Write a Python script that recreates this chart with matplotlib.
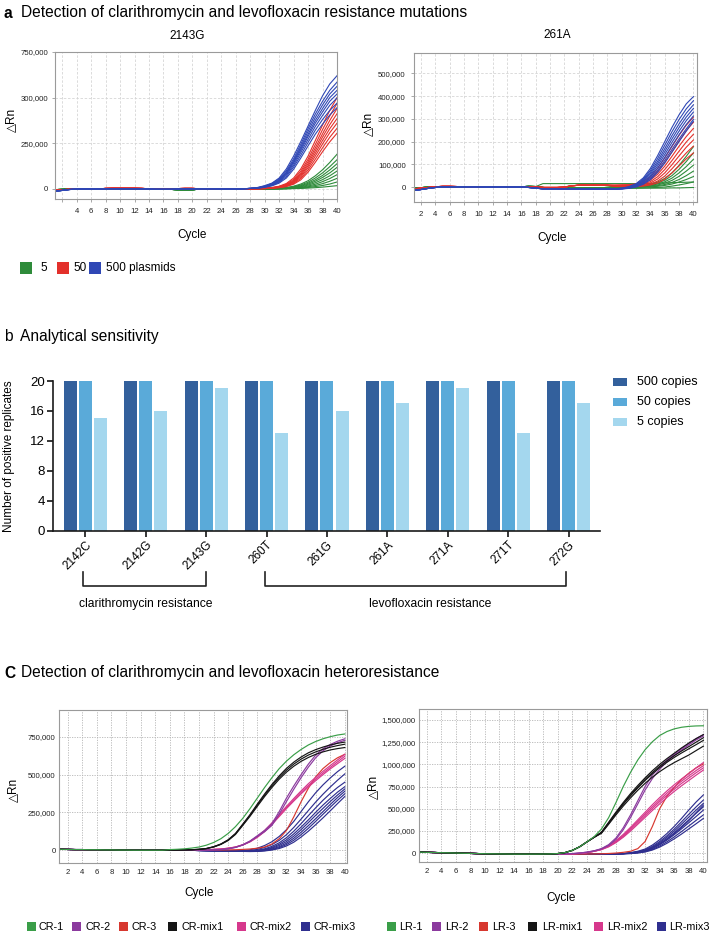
import matplotlib
matplotlib.use("Agg")
import matplotlib.pyplot as plt
from matplotlib.patches import Rectangle
from matplotlib.lines import Line2D

W, H = 709, 935
plt.rcParams['font.family'] = ['Liberation Sans', 'DejaVu Sans']

# ============================ DATA ============================
# ---- panel a : amplification curves (delta Rn, thousands) ----
# baseline for cycles 1..28, per colour group; curves for cycles 29..40
A1_TITLE = "2143G"
A1_BASE_BLUE = [-12, -8, -3, -1, 0, 0, 0, 1, 1, 1, 1, 1, 0, -1, -2, -2, -2, -1, -1, 0, 1, 1, 1, 0, -1, 0, 1, 3]
A1_BASE_RED = [-6, -4, -2, -1, 0, 0, 0, 3, 4, 4, 4, 4, 3, 1, -1, -1, -1, 2, 3, 3, 1, 0, 0, -1, -1, 0, 0, 1]
A1_BASE_GREEN = [-4, -2, 0, 2, 2, 2, 2, 2, 2, 2, 1, 1, 1, 0, -1, -1, -2, -5, -5, -5, 0, 2, 2, 2, 1, 1, 0, 0]
A1_BLUE = [
    [8, 18, 32, 60, 110, 180, 260, 345, 430, 510, 575, 620],
    [7, 16, 30, 55, 100, 165, 245, 330, 410, 480, 540, 585],
    [6, 14, 27, 50, 92, 155, 232, 315, 392, 460, 520, 562],
    [6, 13, 25, 47, 88, 148, 222, 300, 375, 440, 500, 540],
    [5, 12, 23, 44, 82, 140, 212, 288, 360, 422, 480, 520],
    [5, 11, 21, 40, 76, 130, 200, 272, 342, 402, 458, 498],
    [4, 10, 19, 36, 68, 120, 185, 255, 322, 380, 430, 470],
    [4, 9, 17, 32, 60, 108, 170, 236, 300, 355, 405, 445],
]
A1_RED = [
    [2, 4, 8, 15, 30, 60, 110, 180, 265, 350, 430, 500],
    [2, 4, 7, 13, 26, 52, 98, 163, 243, 325, 400, 468],
    [1, 3, 6, 12, 23, 46, 88, 150, 225, 302, 375, 440],
    [1, 3, 6, 11, 21, 42, 80, 138, 210, 284, 352, 412],
    [1, 3, 5, 10, 19, 38, 73, 127, 195, 265, 330, 385],
    [1, 2, 5, 9, 17, 34, 66, 116, 180, 246, 308, 360],
    [1, 2, 4, 8, 15, 30, 58, 104, 163, 225, 283, 332],
    [1, 2, 4, 7, 13, 26, 50, 92, 146, 204, 258, 305],
]
A1_GREEN = [
    [0, 1, 2, 4, 8, 15, 27, 45, 72, 105, 145, 190],
    [0, 1, 2, 3, 6, 12, 22, 37, 60, 88, 122, 160],
    [0, 0, 1, 3, 5, 10, 18, 31, 50, 74, 104, 138],
    [0, 0, 1, 2, 4, 8, 15, 26, 42, 63, 88, 118],
    [0, 0, 1, 2, 3, 6, 12, 21, 34, 51, 72, 98],
    [0, 0, 1, 1, 3, 5, 9, 16, 26, 40, 57, 78],
    [0, 0, 0, 1, 2, 4, 7, 12, 19, 29, 42, 58],
    [0, 0, 0, 1, 1, 3, 5, 8, 13, 19, 27, 38],
    [0, 0, 0, 0, 1, 2, 3, 5, 7, 10, 14, 18],
]
A1_YTICKS = [0, 250, 500, 750]
A1_YLABELS = ["0", "250,000", "300,000", "750,000"]

A2_TITLE = "261A"
A2_BASE_BLUE = [-15, -11, -6, -2, 0, 1, 1, 1, 1, 1, 0, 0, 0, 0, 0, 0, -2, -5, -8, -8, -8, -9, -9, -9, -9, -9, -9, -9]
A2_BASE_RED = [-8, -5, -2, 1, 3, 3, 2, 2, 1, 1, 1, 0, 0, 0, 0, 0, 0, 0, -2, -2, -2, 0, 5, 8, 8, 8, 8, 8]
A2_BASE_GREEN = [-6, -3, 0, 1, 1, 1, 1, 1, 1, 1, 1, 0, 0, 0, 0, 1, 3, 2, -2, -4, -4, -4, -4, -4, -4, -4, -3, -2]
A2_BLUE = [
    [-8, -5, 2, 15, 40, 82, 138, 200, 262, 318, 366, 398],
    [-8, -6, 0, 12, 35, 73, 125, 184, 243, 297, 344, 380],
    [-9, -6, -1, 10, 31, 65, 113, 169, 226, 278, 325, 362],
    [-9, -7, -2, 8, 27, 58, 103, 156, 211, 262, 308, 346],
    [-9, -7, -3, 6, 23, 51, 93, 143, 196, 246, 292, 330],
    [-10, -8, -4, 4, 19, 44, 83, 130, 181, 230, 275, 313],
    [-10, -8, -5, 2, 15, 38, 73, 117, 165, 212, 256, 298],
    [-10, -9, -6, 0, 12, 32, 64, 106, 153, 200, 246, 290],
]
A2_RED = [
    [8, 9, 10, 14, 25, 46, 82, 128, 178, 228, 272, 308],
    [8, 8, 9, 12, 20, 38, 68, 108, 155, 203, 248, 285],
    [7, 8, 8, 10, 17, 31, 56, 92, 135, 180, 222, 258],
    [6, 6, 7, 8, 13, 24, 45, 77, 116, 158, 198, 232],
    [5, 5, 5, 6, 10, 18, 35, 62, 98, 137, 175, 207],
    [3, 3, 3, 4, 7, 13, 26, 48, 80, 115, 150, 180],
    [2, 2, 2, 2, 4, 9, 18, 35, 62, 93, 124, 150],
]
A2_GREEN = [
    [2, 2, 3, 4, 7, 12, 22, 38, 62, 95, 135, 178],
    [1, 1, 2, 3, 5, 9, 17, 30, 50, 78, 112, 150],
    [0, 1, 1, 2, 4, 7, 13, 23, 39, 62, 90, 122],
    [0, 0, 1, 1, 3, 5, 9, 17, 29, 47, 70, 96],
    [0, 0, 0, 1, 2, 3, 6, 11, 20, 33, 50, 70],
    [-3, -3, -3, -2, -1, 1, 3, 7, 13, 22, 33, 46],
    [-5, -5, -5, -5, -4, -3, -2, 0, 4, 9, 15, 22],
    [-5, -5, -5, -5, -5, -5, -5, -5, -4, -4, -3, -2],
]
# one green well with a baseline step (cycles 1..40)
A2_GREEN_STEP = [-6, -3, 0, 1, 1, 1, 1, 1, 1, 1, 1, 0, 0, 0, 0, 1, 3, 2,
                 15, 15, 15, 15, 15, 15, 15, 15, 15, 15, 15, 15, 15, 15, 15,
                 16, 17, 18, 19, 20, 21, 22]
A2_YTICKS = [0, 100, 200, 300, 400, 500]
A2_YLABELS = ["0", "100,000", "200,000", "300,000", "400,000", "500,000"]
A_LEGEND = ["5", "50", "500 plasmids"]

# ---- panel b : analytical sensitivity ----
B_MUTATIONS = ["2142C", "2142G", "2143G", "260T", "261G", "261A", "271A", "271T", "272G"]
B_500 = [20, 20, 20, 20, 20, 20, 20, 20, 20]
B_50 = [20, 20, 20, 20, 20, 20, 20, 20, 20]
B_5 = [15, 16, 19, 13, 16, 17, 19, 13, 17]
B_SERIES = ["500 copies", "50 copies", "5 copies"]
B_YTICKS = [0, 4, 8, 12, 16, 20]
B_GROUPS = ["clarithromycin resistance", "levofloxacin resistance"]

# ---- panel c : heteroresistance curves (thousands) ----
# baseline cycles 1..15 shared, curves for cycles 16..40
C_BASE = [5, 4, 3, 3, 2, 2, 1, 1, 0, 0, -1, -1, -1, -1, -1]
CR_1 = [[3, 5, 8, 13, 20, 32, 50, 75, 110, 155, 210, 275, 345, 415, 480, 540, 590, 632, 667, 697, 720, 738, 752, 763, 770]]
CR_2 = [
    [0, 0, 0, 0, 0, 0, 1, 3, 8, 18, 35, 60, 95, 130, 175, 255, 345, 425, 500, 570, 630, 672, 700, 722, 738],
    [0, 0, 0, 0, 0, 0, 1, 3, 8, 17, 33, 57, 90, 122, 163, 238, 322, 403, 480, 550, 612, 658, 690, 712, 728],
]
CR_3 = [[0, 0, 0, 0, 0, 0, 0, 0, 1, 2, 4, 7, 12, 20, 40, 75, 130, 220, 320, 410, 485, 540, 580, 612, 635]]
CR_MIX1 = [
    [0, 0, 1, 2, 5, 10, 22, 40, 68, 110, 172, 235, 305, 372, 435, 492, 542, 583, 617, 645, 666, 683, 697, 708, 716],
    [0, 0, 1, 2, 5, 10, 21, 39, 66, 107, 168, 230, 298, 364, 426, 482, 530, 570, 603, 630, 651, 668, 682, 693, 702],
    [0, 0, 1, 2, 4, 9, 20, 37, 63, 103, 163, 224, 290, 355, 415, 470, 517, 556, 588, 614, 635, 651, 664, 673, 680],
]
CR_MIX2 = [
    [0, 0, 0, 0, 1, 2, 4, 7, 12, 20, 35, 58, 90, 130, 180, 235, 290, 342, 392, 440, 482, 522, 560, 598, 635],
    [0, 0, 0, 0, 1, 2, 4, 7, 12, 20, 34, 56, 87, 126, 174, 228, 282, 333, 382, 428, 470, 510, 548, 585, 622],
    [0, 0, 0, 0, 1, 2, 4, 6, 11, 19, 33, 54, 84, 122, 169, 222, 275, 325, 373, 418, 460, 500, 538, 573, 608],
]
CR_MIX3 = [
    [0, 0, -1, -2, -3, -4, -5, -6, -6, -5, -3, 2, 12, 30, 55, 90, 135, 190, 255, 320, 380, 432, 478, 520, 556],
    [0, 0, -1, -2, -3, -4, -5, -6, -7, -7, -6, -3, 4, 17, 36, 64, 102, 150, 205, 262, 318, 370, 418, 463, 505],
    [0, 0, -1, -2, -3, -4, -5, -6, -7, -8, -8, -6, -2, 8, 24, 48, 82, 125, 175, 228, 280, 330, 375, 415, 450],
    [0, 0, -1, -2, -3, -4, -5, -6, -7, -8, -8, -7, -4, 4, 17, 38, 68, 107, 152, 200, 250, 298, 342, 384, 420],
    [0, 0, -1, -2, -3, -4, -5, -6, -7, -8, -9, -8, -5, 1, 12, 30, 56, 92, 135, 182, 230, 276, 322, 365, 405],
    [0, 0, -1, -2, -3, -4, -5, -6, -7, -8, -9, -9, -7, -2, 7, 22, 45, 78, 118, 162, 208, 255, 302, 348, 390],
    [0, 0, -1, -2, -3, -4, -5, -6, -7, -8, -9, -9, -8, -4, 3, 16, 36, 65, 102, 144, 190, 237, 284, 330, 373],
    [0, 0, -1, -2, -3, -4, -5, -6, -7, -8, -9, -10, -9, -6, 0, 10, 27, 52, 86, 125, 168, 213, 260, 308, 355],
]
CR_NAMES = ["CR-1", "CR-2", "CR-3", "CR-mix1", "CR-mix2", "CR-mix3"]
C1_YTICKS = [0, 250, 500, 750]
C1_YLABELS = ["0", "250,000", "500,000", "750,000"]

D_BASE = [10, 8, 6, 4, 2, 0, -2, -4, -6, -8, -9, -10, -11, -12, -12]
LR_1 = [[-12, -12, -11, -10, -6, 5, 30, 70, 125, 185, 270, 400, 570, 750, 910, 1050, 1165, 1255, 1325, 1370, 1400, 1418, 1428, 1433, 1435]]
LR_2 = [
    [-12, -12, -12, -11, -10, -9, -6, 0, 10, 25, 50, 95, 170, 285, 430, 590, 750, 880, 975, 1050, 1115, 1175, 1235, 1290, 1335],
    [-12, -12, -12, -11, -10, -9, -6, 0, 10, 25, 45, 85, 155, 262, 400, 555, 710, 840, 945, 1030, 1100, 1160, 1220, 1275, 1320],
]
LR_3 = [[-12, -12, -12, -12, -12, -12, -12, -12, -11, -10, -8, -5, 0, 8, 20, 50, 130, 300, 500, 640, 740, 830, 900, 960, 1005]]
LR_MIX1 = [
    [-12, -12, -11, -10, -6, 5, 30, 70, 125, 178, 235, 348, 462, 570, 670, 762, 848, 928, 1000, 1065, 1125, 1185, 1240, 1290, 1335],
    [-12, -12, -11, -10, -6, 5, 30, 70, 125, 178, 230, 340, 452, 558, 655, 745, 830, 908, 978, 1040, 1098, 1150, 1200, 1250, 1300],
    [-12, -12, -11, -10, -6, 5, 30, 70, 125, 178, 228, 335, 445, 550, 645, 735, 818, 893, 962, 1023, 1078, 1128, 1175, 1222, 1270],
    [-12, -12, -11, -10, -6, 5, 30, 70, 125, 178, 222, 325, 430, 530, 622, 708, 786, 856, 918, 972, 1020, 1063, 1105, 1155, 1205],
]
LR_MIX2 = [
    [-12, -12, -12, -12, -11, -10, -8, -4, 5, 20, 45, 85, 140, 210, 290, 375, 460, 545, 625, 700, 770, 835, 895, 960, 1020],
    [-12, -12, -12, -12, -11, -10, -8, -4, 5, 20, 42, 80, 132, 198, 275, 357, 440, 522, 600, 675, 745, 810, 870, 930, 985],
    [-12, -12, -12, -12, -11, -10, -8, -4, 5, 20, 40, 75, 125, 188, 262, 342, 422, 502, 580, 652, 720, 785, 845, 905, 960],
    [-12, -12, -12, -12, -11, -10, -8, -4, 5, 20, 38, 70, 118, 178, 248, 325, 402, 480, 555, 627, 695, 758, 818, 878, 935],
]
LR_MIX3 = [
    [-15, -15, -15, -15, -15, -15, -15, -15, -15, -14, -13, -12, -10, -7, 5, 20, 45, 90, 150, 220, 300, 390, 485, 575, 655],
    [-15, -15, -15, -15, -15, -15, -15, -15, -15, -14, -13, -12, -10, -7, 2, 15, 36, 75, 130, 195, 270, 352, 437, 520, 597],
    [-15, -15, -15, -15, -15, -15, -15, -15, -15, -14, -13, -12, -10, -7, 0, 12, 30, 66, 117, 178, 248, 325, 405, 484, 560],
    [-15, -15, -15, -15, -15, -15, -15, -15, -15, -14, -13, -12, -10, -7, -2, 9, 26, 58, 105, 162, 228, 300, 374, 448, 521],
    [-15, -15, -15, -15, -15, -15, -15, -15, -15, -14, -13, -12, -10, -7, -4, 6, 21, 50, 93, 146, 207, 273, 342, 412, 484],
    [-15, -15, -15, -15, -15, -15, -15, -15, -15, -14, -13, -12, -10, -7, -5, 3, 16, 41, 79, 127, 182, 242, 305, 368, 430],
    [-15, -15, -15, -15, -15, -15, -15, -15, -15, -14, -13, -12, -10, -7, -6, 1, 12, 34, 67, 110, 160, 214, 272, 330, 390],
    [-15, -15, -15, -15, -15, -15, -15, -15, -15, -14, -13, -12, -10, -7, -3, 8, 24, 55, 100, 155, 218, 288, 365, 455, 540],
]
LR_NAMES = ["LR-1", "LR-2", "LR-3", "LR-mix1", "LR-mix2", "LR-mix3"]
C2_YTICKS = [0, 250, 500, 750, 1000, 1250, 1500]
C2_YLABELS = ["0", "250,000", "500,000", "750,000", "1,000,000", "1,250,000", "1,500,000"]

CYCLES = list(range(1, 41))

# ============================ STYLE ============================
A_COLORS = ["#2e8b3a", "#e3302b", "#2f47b5"]
B_COLORS = ["#33609c", "#5aaad9", "#a4d7ee"]
C_COLORS = ["#3a9e48", "#8b3a9e", "#d7382f", "#151515", "#d6388c", "#2f2f8f"]
TITLE_FS = 11.2

fig = plt.figure(figsize=(W / 100, H / 100), dpi=100)


def add_ax(l, t, r, b):
    return fig.add_axes([l / W, 1 - b / H, (r - l) / W, (b - t) / H])


def ftext(x, y, s, **kw):
    kw.setdefault("va", "center")
    fig.text(x / W, 1 - y / H, s, **kw)


def fsquare(x0, y0, x1, y1, color):
    fig.add_artist(Rectangle((x0 / W, 1 - y1 / H), (x1 - x0) / W, (y1 - y0) / H,
                             transform=fig.transFigure, facecolor=color, edgecolor="none"))


def fline(xs, ys, **kw):
    fig.add_artist(Line2D([x / W for x in xs], [1 - y / H for y in ys],
                          transform=fig.transFigure, **kw))


def style_qpcr(ax, xlim, ylim, yticks, ylabels, xlabels_from, grid_ls, grid_col,
               spine_col, tlen, ypad, xpad):
    ax.set_xlim(*xlim)
    ax.set_ylim(*ylim)
    xt = list(range(2, 41, 2))
    ax.set_xticks(xt)
    ax.set_xticklabels([str(v) if v >= xlabels_from else "" for v in xt])
    ax.set_yticks([v * 1000 for v in yticks])
    ax.set_yticklabels(ylabels)
    ax.tick_params(axis="both", labelsize=5.6, colors=spine_col, labelcolor="#222222",
                   length=tlen, width=0.6)
    ax.tick_params(axis="y", pad=ypad)
    ax.tick_params(axis="x", pad=xpad)
    ax.grid(True, ls=grid_ls, color=grid_col, lw=0.6)
    ax.set_axisbelow(True)
    for s in ax.spines.values():
        s.set_color(spine_col)
        s.set_linewidth(0.8)


def draw_set(ax, base, curves, color, lw):
    for cv in curves:
        ys = [(v * 1000) for v in (base + cv)]
        ax.plot(CYCLES[:len(ys)], ys, color=color, lw=lw, solid_joinstyle="round")


# ============================ PANEL A ============================
ftext(4, 13, "a", fontsize=TITLE_FS, fontweight="bold")
ftext(21, 13, "Detection of clarithromycin and levofloxacin resistance mutations", fontsize=TITLE_FS)

ax = add_ax(55, 52, 337, 199)
style_qpcr(ax, (1, 40), (-55000, 750000), A1_YTICKS, A1_YLABELS, 4, (0, (3, 2)), "#d6d6d6",
           "#9a9a9a", 2.5, 2.5, 4)
draw_set(ax, A1_BASE_GREEN, A1_GREEN, A_COLORS[0], 0.8)
draw_set(ax, A1_BASE_RED, A1_RED, A_COLORS[1], 0.8)
draw_set(ax, A1_BASE_BLUE, A1_BLUE, A_COLORS[2], 0.8)
ftext(187, 36, A1_TITLE, fontsize=8.5, ha="center")
ftext(192, 235, "Cycle", fontsize=8.5, ha="center")
ftext(11, 120, "△Rn", fontsize=8.5, ha="center", rotation=90)

ax = add_ax(414, 53, 697, 202)
style_qpcr(ax, (1, 40.5), (-66000, 590000), A2_YTICKS, A2_YLABELS, 2, (0, (3, 2)), "#d6d6d6",
           "#9a9a9a", 2.5, 3.5, 4)
draw_set(ax, A2_BASE_GREEN, A2_GREEN, A_COLORS[0], 0.8)
ax.plot(CYCLES, [v * 1000 for v in A2_GREEN_STEP], color=A_COLORS[0], lw=0.8)
draw_set(ax, A2_BASE_RED, A2_RED, A_COLORS[1], 0.8)
draw_set(ax, A2_BASE_BLUE, A2_BLUE, A_COLORS[2], 0.8)
ftext(557, 35, A2_TITLE, fontsize=8.5, ha="center")
ftext(552, 238, "Cycle", fontsize=8.5, ha="center")
ftext(368, 124, "△Rn", fontsize=8.5, ha="center", rotation=90)

# legend a
leg_x = [(20, 32, 40), (57, 69, 73), (89, 101, 106)]
for (x0, x1, tx), col, lab in zip(leg_x, A_COLORS, A_LEGEND):
    fsquare(x0, 262, x1, 274, col)
    ftext(tx, 268, lab, fontsize=8.5)

# ============================ PANEL B ============================
ftext(4, 337, "b", fontsize=TITLE_FS)
ftext(20.5, 337, "Analytical sensitivity", fontsize=TITLE_FS)

ax = add_ax(53.3, 381, 600, 530.7)
xs = list(range(len(B_MUTATIONS)))
bw = 0.215
for off, vals, col, lab in zip([-0.25, 0, 0.25], [B_500, B_50, B_5], B_COLORS, B_SERIES):
    ax.bar([x + off for x in xs], vals, width=bw, color=col, edgecolor="none", label=lab,
           clip_on=False)
ax.set_xlim(-0.53, 8.52)
ax.set_ylim(0, 20)
ax.set_yticks(B_YTICKS)
ax.set_xticks(xs)
ax.set_xticklabels(B_MUTATIONS, rotation=45, ha="right", rotation_mode="anchor", fontsize=8.5)
ax.tick_params(axis="y", labelsize=9.5, length=4, width=1.1, pad=2)
ax.tick_params(axis="x", length=4, width=1.1, pad=2)
for s in ["top", "right"]:
    ax.spines[s].set_visible(False)
for s in ["left", "bottom"]:
    ax.spines[s].set_linewidth(1.2)
    ax.spines[s].set_color("#1a1a1a")
ftext(9, 456, "Number of positive replicates", fontsize=8.5, ha="center", rotation=90)

# brackets
fline([82.7, 82.7, 206, 206], [571.7, 585.7, 585.7, 571.7], color="#222222", lw=1.2)
fline([265, 265, 566.3, 566.3], [571.7, 585.7, 585.7, 571.7], color="#222222", lw=1.2)
ftext(146, 604, B_GROUPS[0], fontsize=8.7, ha="center")
ftext(430.5, 604, B_GROUPS[1], fontsize=8.7, ha="center")

# legend b
for i, (col, lab) in enumerate(zip(B_COLORS, B_SERIES)):
    yc = 381.7 + 20 * i
    fsquare(613.3, yc - 4, 626.7, yc + 4, col)
    ftext(636.7, yc, lab, fontsize=9)

# ============================ PANEL C ============================
ftext(4, 673, "C", fontsize=TITLE_FS, fontweight="bold")
ftext(21, 673, "Detection of clarithromycin and levofloxacin heteroresistance", fontsize=TITLE_FS)

ax = add_ax(59, 710, 347, 863)
style_qpcr(ax, (0.8, 40.3), (-86000, 929000), C1_YTICKS, C1_YLABELS, 2, (0, (1.5, 1.5)), "#b5b5b5",
           "#9a9a9a", 0, 2.5, 4)
for curves, col in zip([CR_MIX3, CR_3, CR_MIX2, CR_2, CR_MIX1, CR_1],
                       [C_COLORS[5], C_COLORS[2], C_COLORS[4], C_COLORS[1], C_COLORS[3], C_COLORS[0]]):
    draw_set(ax, C_BASE, curves, col, 0.85)
ftext(199, 893, "Cycle", fontsize=8.5, ha="center")
ftext(13, 790, "△Rn", fontsize=8.5, ha="center", rotation=90)

ax = add_ax(419, 709, 707, 862)
style_qpcr(ax, (0.95, 40.5), (-101000, 1624000), C2_YTICKS, C2_YLABELS, 2, (0, (1.5, 1.5)), "#b5b5b5",
           "#9a9a9a", 0, 2.5, 4)
for curves, col in zip([LR_MIX3, LR_3, LR_MIX2, LR_2, LR_MIX1, LR_1],
                       [C_COLORS[5], C_COLORS[2], C_COLORS[4], C_COLORS[1], C_COLORS[3], C_COLORS[0]]):
    draw_set(ax, D_BASE, curves, col, 0.85)
ftext(561, 898, "Cycle", fontsize=8.5, ha="center")
ftext(373, 787, "△Rn", fontsize=8.5, ha="center", rotation=90)

# legends c
cr_pos = [(26.7, 38.3), (71.7, 85), (119.3, 131.7), (168.3, 181.7), (236.7, 250), (300.7, 313.3)]
lr_pos = [(386.7, 399.3), (432.3, 445), (479, 491.7), (528.3, 541.7), (594.3, 607.3), (656.7, 669.3)]
for (sx, tx), col, lab in zip(cr_pos, C_COLORS, CR_NAMES):
    fsquare(sx, 922, sx + 9, 931, col)
    ftext(tx, 926.5, lab, fontsize=7.8)
for (sx, tx), col, lab in zip(lr_pos, C_COLORS, LR_NAMES):
    fsquare(sx, 922, sx + 9, 931, col)
    ftext(tx, 926.5, lab, fontsize=7.8)

fig.savefig("out.png", dpi=100)
